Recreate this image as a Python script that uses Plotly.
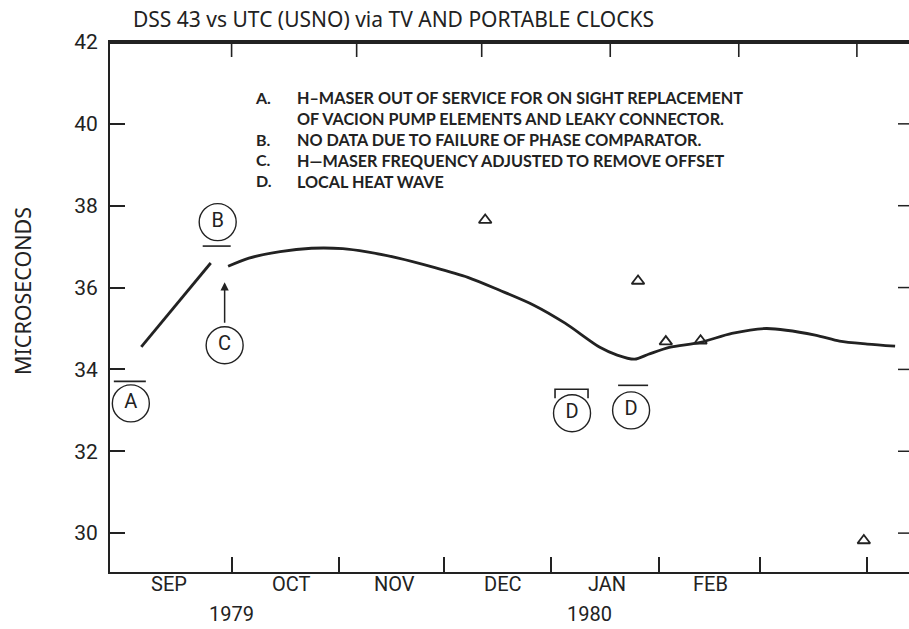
import plotly.graph_objects as go

# ---------------- data ----------------
seg1_dates = ["1979-09-05", "1979-09-25"]
seg1_vals = [34.55, 36.60]

seg2_dates = ["1979-09-30", "1979-10-06", "1979-10-15", "1979-10-24", "1979-11-02",
              "1979-11-09", "1979-11-18", "1979-11-28", "1979-12-08", "1979-12-17",
              "1979-12-27", "1980-01-05", "1980-01-15", "1980-01-20", "1980-01-25",
              "1980-01-29", "1980-02-04", "1980-02-13", "1980-02-22", "1980-03-03",
              "1980-03-17", "1980-03-24", "1980-04-01", "1980-04-09"]
seg2_vals = [36.52, 36.72, 36.88, 36.96, 36.95,
             36.87, 36.72, 36.50, 36.25, 35.94,
             35.57, 35.13, 34.54, 34.35, 34.25,
             34.37, 34.54, 34.66, 34.88, 35.00,
             34.84, 34.69, 34.62, 34.57]

tri_dates = ["1979-12-13", "1980-01-26", "1980-02-03", "1980-02-13", "1980-03-31"]
tri_vals = [37.65, 36.16, 34.68, 34.70, 29.82]

note_labels = ["A", "B", "C", "D", "D"]
note_dates = ["1979-09-02", "1979-09-27", "1979-09-29", "1980-01-07", "1980-01-24"]
note_vals = [33.17, 37.60, 34.59, 32.93, 33.00]

month_labels = ["SEP", "OCT", "NOV", "DEC", "JAN", "FEB"]
month_label_dates = ["1979-09-13", "1979-10-18", "1979-11-17", "1979-12-18", "1980-01-17", "1980-02-16"]
month_ticks = ["1979-10-01", "1979-11-01", "1979-12-01", "1980-01-01", "1980-02-01",
               "1980-03-01", "1980-04-01"]
top_ticks = ["1979-10-01", "1979-11-06", "1979-12-12", "1980-01-18", "1980-02-24", "1980-03-29"]
year_labels = ["1979", "1980"]
year_dates = ["1979-10-01", "1980-01-12"]
y_ticks = [30, 32, 34, 36, 38, 40, 42]
right_ticks = [30, 32, 34, 36, 38, 40]

legend_letters = ["A.", "", "B.", "C.", "D."]
legend_lines = ["H–MASER OUT OF SERVICE FOR ON SIGHT REPLACEMENT",
                "OF VACION PUMP ELEMENTS AND LEAKY CONNECTOR.",
                "NO DATA DUE TO FAILURE OF PHASE COMPARATOR.",
                "H—MASER FREQUENCY ADJUSTED TO REMOVE OFFSET",
                "LOCAL HEAT WAVE"]

title_text = "DSS 43 vs UTC (USNO) via TV AND PORTABLE CLOCKS"
y_title = "MICROSECONDS"

# ---------------- styling ----------------
W, H = 909, 629
ML, MR, MT, MB = 110, 0, 42, 57
INK = "#222222"
COND = "Roboto, Liberation Sans, sans-serif"
WIDE = "Noto Sans, sans-serif"
LEG = "Lato, Noto Sans, sans-serif"
X_RANGE = ["1979-08-27", "1980-04-13"]
Y_RANGE = [29.05, 42.0]
PLOT_W = W - ML - MR
PLOT_H = H - MT - MB
Y_PER_PX = (Y_RANGE[1] - Y_RANGE[0]) / PLOT_H


def px_x(px):
    return (px - ML) / PLOT_W


def px_y(py):
    return 1 - (py - MT) / PLOT_H


fig = go.Figure()

fig.add_trace(go.Scatter(x=seg1_dates, y=seg1_vals, mode="lines",
                         line=dict(color=INK, width=2.8), showlegend=False))
fig.add_trace(go.Scatter(x=seg2_dates, y=seg2_vals, mode="lines",
                         line=dict(color=INK, width=2.8, shape="spline", smoothing=0.8),
                         showlegend=False))
fig.add_trace(go.Scatter(x=tri_dates, y=tri_vals, mode="markers",
                         marker=dict(symbol="triangle-up-open", size=11, color=INK,
                                     line=dict(color=INK, width=1.8)),
                         showlegend=False))
fig.add_trace(go.Scatter(x=note_dates, y=note_vals, mode="markers+text",
                         text=note_labels, textposition="middle center",
                         textfont=dict(family=COND, size=20, color=INK),
                         marker=dict(symbol="circle-open", size=37, color=INK,
                                     line=dict(color=INK, width=1.4)),
                         showlegend=False))

# overline bars tied to the circled notes (pixel offsets)
bar_specs = {0: (-17, 15, 22), 1: (-15, 13, -24), 4: (-13, 17, 25)}
for i, (x0, x1, dy) in bar_specs.items():
    fig.add_shape(type="line", xref="x", yref="y",
                  xsizemode="pixel", ysizemode="pixel",
                  xanchor=note_dates[i], yanchor=note_vals[i],
                  x0=x0, x1=x1, y0=dy, y1=dy,
                  line=dict(color=INK, width=1.6))
# bracket over first D
fig.add_shape(type="path", xref="x", yref="y", xsizemode="pixel", ysizemode="pixel",
              xanchor=note_dates[3], yanchor=note_vals[3],
              path="M -17,15 L -17,24 L 16,24 L 16,15",
              line=dict(color=INK, width=1.6))

# top frame line (slightly inside the top edge so it is never clipped)
top_val = Y_RANGE[1] - 1 * Y_PER_PX
fig.add_shape(type="line", xref="paper", yref="y", x0=0, x1=1, y0=top_val, y1=top_val,
              line=dict(color=INK, width=2), layer="above")
# top-edge tick marks hanging down from the frame (pixel-sized, anchored at each date)
for d in top_ticks:
    fig.add_shape(type="line", xref="x", yref="y",
                  xsizemode="pixel", ysizemode="pixel",
                  xanchor=d, yanchor=top_val,
                  x0=0, x1=0.01, y0=0, y1=-14,
                  line=dict(color=INK, width=1.6), layer="above")
# right-edge tick marks
for v in right_ticks:
    fig.add_shape(type="line", xref="paper", yref="y",
                  x0=1.0, x1=1.0 - 11 / PLOT_W, y0=v, y1=v,
                  line=dict(color=INK, width=1.5), layer="above")

# arrow C
fig.add_annotation(x=note_dates[2], y=note_vals[2], yshift=63, ax=0, ay=42,
                   text="", showarrow=True, arrowhead=2, arrowsize=1.1,
                   arrowwidth=1.5, arrowcolor=INK)

# month labels
for lab, d in zip(month_labels, month_label_dates):
    fig.add_annotation(x=d, y=0, xref="x", yref="paper", yanchor="top", yshift=2,
                       text=lab, showarrow=False,
                       font=dict(family=COND, size=20, color=INK))
for lab, d in zip(year_labels, year_dates):
    fig.add_annotation(x=d, y=0, xref="x", yref="paper", yanchor="top", yshift=-28,
                       text=lab, showarrow=False,
                       font=dict(family=COND, size=20, color=INK))

# legend text
fig.add_annotation(x=px_x(253), y=px_y(86), xref="paper", yref="paper",
                   xanchor="left", yanchor="top", align="left", showarrow=False,
                   text="<br>".join(legend_letters),
                   font=dict(family=LEG, size=16, color=INK, weight="bold"))
fig.add_annotation(x=px_x(295), y=px_y(86), xref="paper", yref="paper",
                   xanchor="left", yanchor="top", align="left", showarrow=False,
                   text="<br>".join(legend_lines),
                   font=dict(family=LEG, size=16.2, color=INK, weight="bold"))

# y title
fig.add_annotation(x=px_x(22), y=px_y(291), xref="paper", yref="paper",
                   xanchor="center", yanchor="middle", textangle=-90,
                   text=y_title, showarrow=False,
                   font=dict(family=WIDE, size=21.5, color=INK))

fig.update_layout(
    width=W, height=H,
    margin=dict(l=ML, r=MR, t=MT, b=MB),
    paper_bgcolor="white", plot_bgcolor="white",
    title=dict(text=title_text, x=133 / W, xref="container", xanchor="left",
               y=1 - 20 / H, yref="container", yanchor="middle",
               font=dict(family=WIDE, size=21, color=INK)),
    xaxis=dict(type="date", range=X_RANGE,
               tickvals=month_ticks, showticklabels=False,
               ticks="inside", ticklen=15, tickwidth=1.5, tickcolor=INK,
               showline=True, linecolor=INK, linewidth=2, mirror=True,
               showgrid=False, zeroline=False),
    yaxis=dict(range=Y_RANGE, tickvals=y_ticks,
               ticks="inside", ticklen=15, tickwidth=1.5, tickcolor=INK,
               ticklabelstandoff=6,
               tickfont=dict(family=COND, size=21, color=INK),
               showline=True, linecolor=INK, linewidth=2,
               showgrid=False, zeroline=False),
)

fig.write_html("out.html", config={"displayModeBar": False},
               post_script="document.body.style.margin='0';")
